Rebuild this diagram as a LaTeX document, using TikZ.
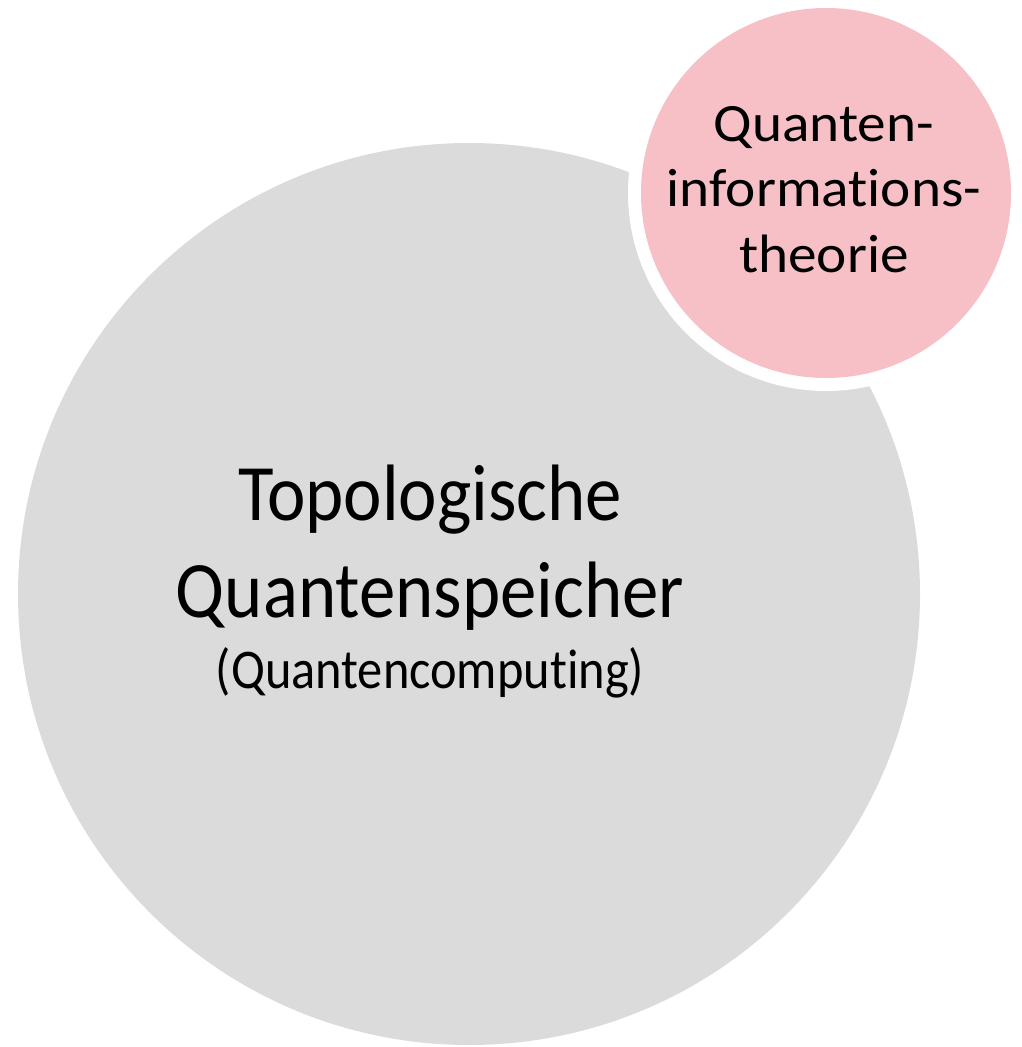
\documentclass[tikz,border=0pt]{standalone}
\usepackage{fontspec}
\setmainfont{Carlito}[Ligatures=NoCommon]
\definecolor{bggray}{HTML}{DBDBDB}
\definecolor{pinkc}{HTML}{F6C0C6}
\begin{document}
\begin{tikzpicture}[x=1pt,y=-1pt,
  bigc/.style={circle,fill=bggray,draw=none,minimum size=902pt,inner sep=0pt},
  smallc/.style={circle,fill=pinkc,draw=none,minimum size=370pt,inner sep=0pt},
  bigtxt/.style={anchor=base,inner sep=0pt,font=\fontsize{80}{96}\selectfont\addfontfeature{FakeStretch=0.91}},
  subtxt/.style={anchor=base,inner sep=0pt,font=\fontsize{56}{60}\selectfont\addfontfeature{FakeStretch=0.9}},
  pinktxt/.style={anchor=base,inner sep=0pt,font=\fontsize{54}{60}\selectfont\addfontfeature{FakeStretch=1.06}}]
\useasboundingbox (0,0) rectangle (1022,1047);
\node[bigc] (big) at (469,594) {};
\fill[white] (826,193) circle (198);
\node[smallc] (qit) at (826,193) {};
\node[bigtxt] (t1) at (430,520) {Topologische};
\node[bigtxt] (t2) at (430,617) {Quantenspeicher};
\node[subtxt] (t3) at (430,688) {(Quantencomputing)};
\node[pinktxt] (p1) at (824,141) {Quanten-};
\node[pinktxt] (p2) at (824,206) {informations-};
\node[pinktxt] (p3) at (824,272) {theorie};
\end{tikzpicture}
\end{document}
